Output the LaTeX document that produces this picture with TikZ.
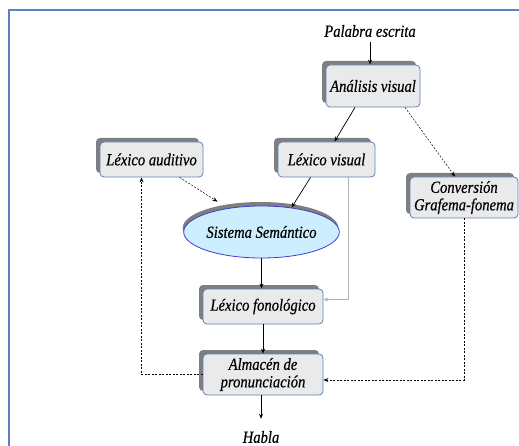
\documentclass[tikz,border=0pt]{standalone}
\usepackage{fontspec}
\setmainfont{Liberation Serif}
\newfontfamily\narrowit[FakeStretch=0.86,FakeBold=0.5]{Liberation Serif Italic}
\usetikzlibrary{arrows.meta,shadows,shapes.geometric}
\definecolor{boxfill}{HTML}{EAEAEC}
\definecolor{boxline}{HTML}{5B7FB8}
\definecolor{ellfill}{HTML}{CDEEFF}
\definecolor{ellline}{HTML}{3F3FCC}
\definecolor{shadowgray}{HTML}{7F7F7F}
\definecolor{framecol}{HTML}{5A82BE}
\tikzset{
  lbl/.style={font=\narrowit\fontsize{17}{17.5}\selectfont, inner sep=0pt},
  modbox/.style={lbl, draw=boxline, fill=boxfill, line width=0.8pt,
    rounded corners=4pt, minimum height=35pt, align=center,
    drop shadow={shadow xshift=-4pt, shadow yshift=4pt, fill=shadowgray, opacity=1}},
  semell/.style={lbl, ellipse, draw=ellline, fill=ellfill, line width=0.8pt,
    minimum width=143pt, minimum height=52pt,
    drop shadow={shadow xshift=-1pt, shadow yshift=4pt, fill=shadowgray, opacity=1}},
  flow/.style={-{Stealth[length=5pt,width=4pt]}, line width=0.7pt},
  route/.style={flow, dash pattern=on 2pt off 1.5pt, line width=0.5pt},
  side/.style={-{Stealth[length=5pt,width=4pt]}, gray!60, line width=0.6pt}
}
\begin{document}
\begin{tikzpicture}[x=1pt, y=-1pt]
    \useasboundingbox (0,0) rectangle (519,446);
    \draw[framecol, line width=1.2pt] (9,446) -- (9,10) -- (519,10);

    \node[lbl, inner ysep=5pt]                        (pe) at (370,31)    {Palabra escrita};
    \node[modbox, minimum width=94pt, minimum height=42pt] (av) at (373,86) {Análisis visual};
    \node[modbox, minimum width=103pt]                (la) at (151.5,159.5) {Léxico auditivo};
    \node[modbox, minimum width=97pt]                 (lv) at (326.5,159.5) {Léxico visual};
    \node[modbox, minimum width=108pt, minimum height=41pt] (cg) at (464,197.5) {Conversión\\Grafema-fonema};
    \node[semell]                                     (ss) at (261.5,232) {Sistema Semántico};
    \node[modbox, minimum width=120pt]                (lf) at (263,306.5) {Léxico fonológico};
    \node[modbox, minimum width=120pt, minimum height=41pt] (ap) at (263,374.5) {Almacén de\\pronunciación};
    \node[lbl, inner ysep=12pt]                       (ha) at (261,437)   {Habla};

    \draw[flow] (pe.south) -- (pe.south |- av.north);
    \draw[flow] ([xshift=-18pt]av.south) -- ([xshift=8pt]lv.north);
    \draw[route] ([xshift=32pt]av.south) -- ([xshift=-9pt]cg.north);
    \draw[route] ([xshift=28pt]la.south) -- ([xshift=-44pt,yshift=4pt]ss.north);
    \draw[flow] ([xshift=-16pt]lv.south) -- ([xshift=30pt,yshift=-2pt]ss.north);
    \draw[side] ([xshift=22pt]lv.south) |- ([yshift=7pt]lf.east);
    \draw[flow] (ss.south) -- (ss.south |- lf.north);
    \draw[flow] (lf) -- (ap);
    \draw[flow] (ap.south -| ha) -- (ha);
    \draw[route] (ap.west) -| ([xshift=-10pt]la.south);
    \draw[route] (cg.south) |- ([yshift=-5.5pt]ap.east);
  \end{tikzpicture}
\end{document}
